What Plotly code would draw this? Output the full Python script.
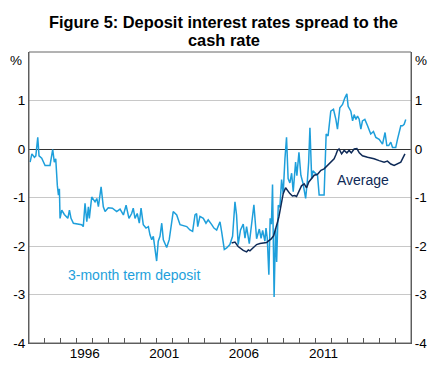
import plotly.graph_objects as go

# 3-month term deposit spread to cash rate (decimal year, percentage points)
td_year = [1993.07, 1993.18, 1993.34, 1993.43, 1993.55, 1993.63, 1993.80, 1994.01, 1994.32, 1994.49,
           1994.59, 1994.68, 1994.78, 1994.85, 1994.91, 1994.95, 1995.06, 1995.22, 1995.44, 1995.54,
           1995.64, 1995.79, 1996.31, 1996.41, 1996.52, 1996.63, 1996.73, 1996.79, 1996.94, 1997.15,
           1997.26, 1997.36, 1997.53, 1997.67, 1997.78, 1997.98, 1998.24, 1998.51, 1998.72, 1998.93,
           1999.10, 1999.28, 1999.45, 1999.55, 1999.66, 1999.80, 1999.93, 2000.04, 2000.18, 2000.35,
           2000.50, 2000.60, 2000.71, 2000.81, 2001.02, 2001.12, 2001.23, 2001.34, 2001.44, 2001.65,
           2001.81, 2001.96, 2002.06, 2002.28, 2002.49, 2002.91, 2003.11, 2003.28, 2003.43, 2003.53,
           2003.60, 2003.74, 2003.95, 2004.12, 2004.26, 2004.48, 2004.62, 2004.79, 2005.00, 2005.10,
           2005.27, 2005.42, 2005.62, 2005.79, 2005.94, 2006.04, 2006.14, 2006.29, 2006.46, 2006.57,
           2006.67, 2006.84, 2006.94, 2007.13, 2007.30, 2007.47, 2007.58, 2007.68, 2007.82, 2007.89,
           2007.97, 2008.07, 2008.15, 2008.23, 2008.30, 2008.40, 2008.49, 2008.56, 2008.66, 2008.76,
           2008.87, 2008.97, 2009.08, 2009.18, 2009.28, 2009.39, 2009.50, 2009.60, 2009.75, 2009.83,
           2009.96, 2010.08, 2010.21, 2010.38, 2010.49, 2010.57, 2010.65, 2010.76, 2010.84, 2010.92,
           2011.13, 2011.23, 2011.54, 2011.67, 2011.79, 2011.96, 2012.13, 2012.28, 2012.38, 2012.53,
           2012.70, 2012.84, 2012.97, 2013.05, 2013.22, 2013.33, 2013.43, 2013.54, 2013.64, 2013.74,
           2013.85, 2013.95, 2014.10, 2014.27, 2014.47, 2014.64, 2014.79, 2015.00, 2015.21, 2015.37,
           2015.48, 2015.60, 2015.73, 2015.84, 2016.04, 2016.15, 2016.36, 2016.47, 2016.57, 2016.67]
td_value = [-0.27, -0.10, -0.17, -0.14, 0.24, -0.14, -0.19, -0.34, -0.34, -0.01,
            -0.27, -0.20, -0.75, -0.95, -0.82, -1.43, -1.26, -1.35, -1.43, -1.26,
            -1.43, -1.53, -1.56, -1.60, -1.12, -1.50, -1.19, -1.43, -0.99, -1.09,
            -1.02, -1.19, -0.78, -1.19, -1.29, -1.21, -1.22, -1.29, -1.24, -1.36,
            -1.16, -1.43, -1.33, -1.22, -1.43, -1.33, -1.53, -1.22, -1.56, -1.63,
            -1.60, -1.77, -1.87, -1.80, -2.31, -1.90, -1.80, -1.53, -1.87, -2.03,
            -1.87, -1.50, -1.29, -1.36, -1.56, -1.60, -1.67, -1.70, -1.36, -1.33,
            -1.60, -1.39, -1.43, -1.53, -1.46, -1.56, -1.63, -1.67, -1.50, -1.70,
            -2.07, -2.04, -1.97, -1.80, -1.09, -1.36, -1.97, -1.67, -1.55, -1.84,
            -1.60, -1.95, -1.70, -1.15, -1.85, -1.65, -1.84, -1.68, -1.90, -1.63,
            -1.84, -2.59, -1.43, -1.55, -0.73, -3.05, -1.63, -2.33, -1.16, -1.20,
            -0.63, -0.92, -0.20, 0.24, -0.61, -0.70, -0.50, -0.88, -0.27, -0.55,
            -0.07, -0.54, -0.70, -1.02, -0.65, -0.27, 0.44, -0.61, -0.45, -0.48,
            -0.55, -0.95, -0.95, 0.31, 0.27, 0.78, 0.82, 0.61, 0.41, 0.85,
            0.92, 1.05, 1.14, 0.88, 0.78, 0.58, 0.71, 0.61, 0.68, 0.62,
            0.41, 0.58, 0.61, 0.48, 0.31, 0.36, 0.24, 0.20, 0.10, 0.34,
            0.07, 0.07, 0.14, 0.03, 0.03, 0.20, 0.48, 0.48, 0.51, 0.61]

# Average deposit rate spread to cash rate
avg_year = [2005.73, 2005.94, 2006.14, 2006.31, 2006.46, 2006.67, 2006.78, 2006.88, 2007.09, 2007.30,
            2007.51, 2007.71, 2007.93, 2008.03, 2008.20, 2008.37, 2008.51, 2008.62, 2008.70, 2008.79,
            2008.89, 2008.97, 2009.12, 2009.28, 2009.39, 2009.55, 2009.70, 2009.81, 2009.97, 2010.12,
            2010.29, 2010.44, 2010.58, 2010.75, 2010.92, 2011.13, 2011.34, 2011.54, 2011.76, 2011.96,
            2012.17, 2012.28, 2012.38, 2012.48, 2012.64, 2012.80, 2012.97, 2013.11, 2013.25, 2013.43,
            2013.60, 2013.75, 2013.95, 2014.27, 2014.47, 2014.68, 2015.00, 2015.31, 2015.52, 2015.73,
            2015.94, 2016.15, 2016.36, 2016.47, 2016.62]
avg_value = [-1.94, -1.92, -2.01, -2.05, -2.09, -2.12, -2.08, -2.10, -2.04, -1.97,
             -1.95, -1.94, -1.93, -1.90, -1.86, -1.79, -1.65, -1.50, -1.40, -1.25,
             -1.10, -0.92, -0.80, -0.88, -0.92, -0.97, -0.96, -0.98, -0.88, -0.76,
             -0.72, -0.80, -0.68, -0.61, -0.54, -0.52, -0.44, -0.41, -0.34, -0.27,
             -0.20, -0.12, -0.03, 0.00, -0.10, -0.03, -0.08, -0.03, -0.08, 0.00,
             0.01, -0.08, -0.14, -0.17, -0.18, -0.20, -0.24, -0.27, -0.25, -0.31,
             -0.34, -0.31, -0.27, -0.20, -0.10]

year_ticks = list(range(1994, 2017))
label_years = [1996, 2001, 2006, 2011]
y_ticks = [-4, -3, -2, -1, 0, 1]
y_labels = ["-4", "-3", "-2", "-1", "0", "1"]
title_lines = ["Figure 5: Deposit interest rates spread to the", "cash rate"]

LIGHT = "#1E9FDB"
DARK = "#0E2A57"
FONT = "Arial, Liberation Sans, sans-serif"

fig = go.Figure()
fig.add_trace(go.Scatter(x=td_year, y=td_value, mode="lines",
                         line=dict(color=LIGHT, width=1.5), showlegend=False, hoverinfo="skip"))
fig.add_trace(go.Scatter(x=avg_year, y=avg_value, mode="lines",
                         line=dict(color=DARK, width=1.5), showlegend=False, hoverinfo="skip"))
# invisible trace to activate the secondary axes
fig.add_trace(go.Scatter(x=[1993, 2017], y=[-4, 2], xaxis="x2", yaxis="y2", mode="none",
                         showlegend=False, hoverinfo="skip"))

fig.update_layout(
    width=442, height=373,
    margin=dict(l=29, r=31, t=52, b=27),
    paper_bgcolor="white", plot_bgcolor="white",
    font=dict(family=FONT, size=13.5, color="black"),
    xaxis=dict(range=[1993, 2017], tickvals=year_ticks, showticklabels=False,
               ticks="inside", ticklen=5, tickcolor="#555", tickwidth=1,
               showgrid=False, zeroline=False, showline=True, linecolor="#555",
               linewidth=1),
    xaxis2=dict(range=[1993, 2017], overlaying="x", anchor="y", side="bottom",
                tickvals=[y + 0.5 for y in label_years], ticktext=[str(y) for y in label_years],
                ticks="", showgrid=False, zeroline=False, showline=False,
                tickfont=dict(size=13.5)),
    yaxis=dict(range=[-4, 2], tickvals=y_ticks, ticktext=y_labels, ticks="",
               showgrid=True, gridcolor="#C8C8C8", gridwidth=1,
               zeroline=True, zerolinecolor="#333", zerolinewidth=1,
               showline=True, linecolor="#555", linewidth=1),
    yaxis2=dict(range=[-4, 2], overlaying="y", side="right", anchor="x",
                tickvals=y_ticks, ticktext=y_labels, ticks="",
                showgrid=False, zeroline=False, showline=True, linecolor="#555", linewidth=1),
    shapes=[dict(type="rect", xref="paper", yref="paper", x0=0, x1=1, y0=0, y1=1,
                 line=dict(color="#666", width=1), layer="above")],
    annotations=[
        dict(text="<b>" + title_lines[0] + "</b>", xref="paper", yref="paper",
             x=0.51, y=1.102, showarrow=False, xanchor="center", yanchor="middle",
             font=dict(family=FONT, size=16.4, color="black")),
        dict(text="<b>" + title_lines[1] + "</b>", xref="paper", yref="paper",
             x=0.51, y=1.041, showarrow=False, xanchor="center", yanchor="middle",
             font=dict(family=FONT, size=16.4, color="black")),
        dict(text="%", xref="paper", yref="y", x=-0.034, y=1.82, showarrow=False,
             xanchor="center", yanchor="middle", font=dict(size=13.5)),
        dict(text="%", xref="paper", yref="y", x=1.027, y=1.82, showarrow=False,
             xanchor="center", yanchor="middle", font=dict(size=13.5)),
        dict(text="3-month term deposit", xref="x", yref="y", x=1999.6, y=-2.6,
             showarrow=False, xanchor="center", yanchor="middle",
             font=dict(size=14, color=LIGHT)),
        dict(text="Average", xref="x", yref="y", x=2014.0, y=-0.63,
             showarrow=False, xanchor="center", yanchor="middle",
             font=dict(size=14, color=DARK)),
    ],
)

fig.write_html("out.html", config={"displayModeBar": False},
               post_script="document.body.style.margin='0';")
